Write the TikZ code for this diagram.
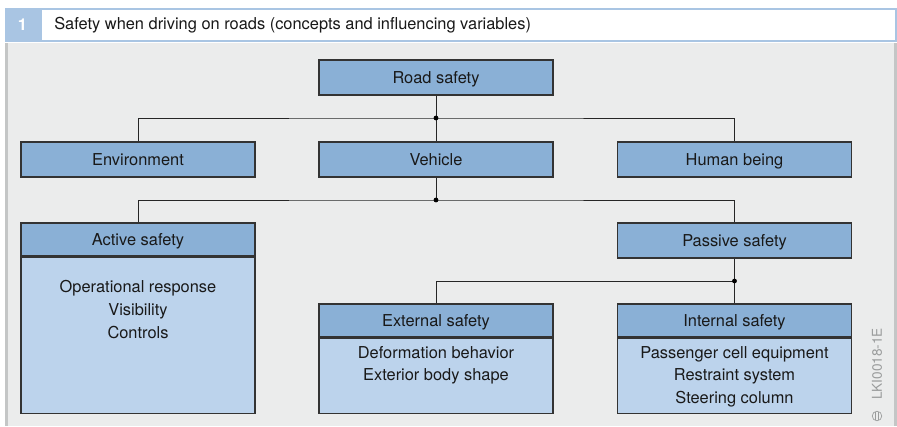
\documentclass[tikz,border=0pt]{standalone}
\usepackage{fontspec}
\setmainfont{TeX Gyre Heros}
\usetikzlibrary{positioning}

\definecolor{headblue}{HTML}{8AB0D6}
\definecolor{bodyblue}{HTML}{BCD3EC}
\definecolor{panelgrey}{HTML}{EBECEC}
\definecolor{framegrey}{HTML}{C4C6C6}
\definecolor{tabblue}{HTML}{A9C5E3}
\definecolor{markgrey}{HTML}{9A9C9C}

\tikzset{
    boxtext/.style={font=\fontsize{12.3}{16.9}\selectfont, text=black!90},
    headbox/.style={boxtext, draw=black!80, line width=0.8pt, fill=headblue,
        minimum width=175.5pt, minimum height=24.75pt, inner sep=0pt,
        text height=8.8pt, text depth=0pt},
    bodybox/.style={draw=black!80, line width=0.8pt, fill=bodyblue,
        minimum width=175.5pt, inner sep=0pt, anchor=north},
    itemlist/.style={boxtext, align=center, inner sep=0pt},
    link/.style={draw=black!85, line width=0.7pt},
    joint/.style={circle, fill=black, inner sep=0pt, minimum size=3.6pt}
}

\begin{document}
\begin{tikzpicture}[x=0.75pt, y=-0.75pt]

    % Frame
    \useasboundingbox (0,0) rectangle (897,426);
    \fill[panelgrey] (5,43) rectangle (897,426);
    \fill[framegrey] (5,43) rectangle (7.5,426);
    \fill[framegrey] (894,43) rectangle (897,426);
    \fill[tabblue] (5,8) rectangle (41,42);
    \draw[tabblue, fill=white, line width=1.5pt] (41,8.75) rectangle (896,41.25);
    \node[boxtext, text=white, font=\fontsize{12.3}{14}\selectfont\bfseries] (num) at (22.5,25) {1};
    \node[boxtext, anchor=west, inner sep=0pt] (title) at (54,25)
        {Safety when driving on roads (concepts and influencing variables)};

    % First level
    \node[headbox, minimum height=26.25pt] (road) at (436,77.5) {Road safety};
    \node[headbox, minimum height=26.25pt] (env) at (138,159.5) {Environment};
    \node[headbox, minimum height=26.25pt] (veh) at (436,159.5) {Vehicle};
    \node[headbox, minimum height=26.25pt] (human) at (734.5,159.5) {Human being};
    \coordinate (j1) at (436,118);

    \draw[link] (road.south) -- (veh.north);
    \draw[link] (env.north) |- (j1) -| (human.north);
    \node[joint] at (j1) {};

    % Second level
    \node[headbox] (active) at (138,239.5) {Active safety};
    \node[bodybox, minimum height=117pt] (activebody) at (active.south) {};
    \node[itemlist] (activeitems) at (138,309.5)
        {Operational response\\Visibility\\Controls};
    \node[headbox, minimum height=26.25pt] (passive) at (734.5,240.5) {Passive safety};
    \coordinate (j2) at (436,200);

    \draw[link] (veh.south) -- (j2);
    \draw[link] (active.north) |- (j2) -| (passive.north);
    \node[joint] at (j2) {};

    % Third level
    \node[headbox] (external) at (436,320.5) {External safety};
    \node[bodybox, minimum height=56.25pt] (externalbody) at (external.south) {};
    \node[itemlist] (externalitems) at (436,365.5)
        {Deformation behavior\\Exterior body shape};
    \node[headbox] (internal) at (734.5,320.5) {Internal safety};
    \node[bodybox, minimum height=56.25pt] (internalbody) at (internal.south) {};
    \node[itemlist] (internalitems) at (734.5,376.5)
        {Passenger cell equipment\\Restraint system\\Steering column};
    \coordinate (j3) at (734.5,281);

    \draw[link] (passive.south) -- (internal.north);
    \draw[link] (external.north) |- (j3);
    \node[joint] at (j3) {};

    % Figure code
    \node[rotate=90, text=markgrey, font=\fontsize{10.2}{12}\selectfont, inner sep=0pt]
        (code) at (877,364) {LKI0018-1E};
    \draw[markgrey, line width=0.5pt] (877,416) circle[radius=3.6pt];
    \draw[markgrey, line width=0.5pt] (875.3,412) -- (875.3,420)
        (878.7,412) -- (878.7,420);

\end{tikzpicture}
\end{document}
